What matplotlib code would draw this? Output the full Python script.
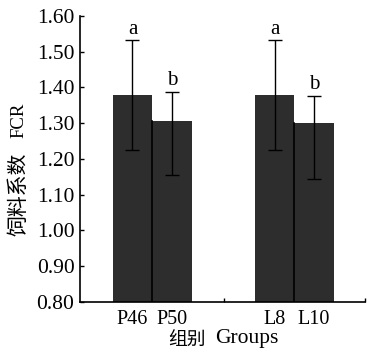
import matplotlib
matplotlib.use('Agg')
import matplotlib.pyplot as plt

groups = ['P46', 'P50', 'L8', 'L10']
fcr = [1.38, 1.306, 1.38, 1.30]
err_up = [0.152, 0.082, 0.152, 0.076]
err_dn = [0.155, 0.151, 0.155, 0.156]
letters = ['a', 'b', 'a', 'b']

pos = [0, 1, 3.6, 4.6]
serif = 'Liberation Serif'
cjk = ['Noto Sans CJK SC', 'Liberation Serif']

fig = plt.figure(figsize=(3.71, 3.54), dpi=100)
ax = fig.add_axes([0.2156, 0.1469, 0.7682, 0.8079])

ax.bar(pos, [v - 0.8 for v in fcr], bottom=0.8, width=1.0, color='#2d2d2d',
       edgecolor='none', zorder=2)
# thin separators between touching bars
for i in [0, 2]:
    x0 = (pos[i] + pos[i + 1]) / 2
    ax.plot([x0, x0], [0.8, min(fcr[i], fcr[i + 1])],
            color='black', lw=1.2, zorder=3)
ax.errorbar(pos, fcr, yerr=[err_dn, err_up], fmt='none', ecolor='black',
            elinewidth=1.0, capsize=5, capthick=1.0, zorder=4)
for x, v, e, t in zip(pos, fcr, err_up, letters):
    ax.text(x, v + e + 0.005, t, ha='center', va='bottom', fontsize=15,
            family=serif)

ax.set_xlim(-1.33, 5.89)
ax.set_ylim(0.8, 1.6)
ax.set_yticks([0.8 + 0.1 * i for i in range(9)])
ax.set_yticklabels(['%.2f' % (0.8 + 0.1 * i) for i in range(9)],
                   family=serif, fontsize=15.5)
ax.set_xticks([2.32, 5.89])
ax.set_xticklabels([])
ax.tick_params(direction='in', length=3, width=1)
ax.tick_params(axis='y', pad=4)
for x, g in zip(pos, groups):
    ax.text(x, -0.028, g, transform=ax.get_xaxis_transform(), ha='center',
            va='top', fontsize=14.5, family=serif)

ax.spines['top'].set_visible(False)
ax.spines['right'].set_visible(False)
for s in ['left', 'bottom']:
    ax.spines[s].set_linewidth(1.2)

# x label: Chinese + English parts
fig.text(206 / 371, 1 - 340 / 354, '组别', ha='right', va='center',
         fontsize=13.5, family=cjk)
fig.text(215 / 371, 1 - 339 / 354, 'Groups', ha='left', va='center',
         fontsize=15.5, family=serif)
# y label
fig.text(19 / 371, 1 - 194 / 354, '饲料系数', ha='center', va='center',
         rotation=90, fontsize=15, family=cjk)
fig.text(19 / 371, 1 - 120 / 354, 'FCR', ha='center', va='center',
         rotation=90, fontsize=13.5, family=serif)

fig.savefig('out.png', dpi=100)
